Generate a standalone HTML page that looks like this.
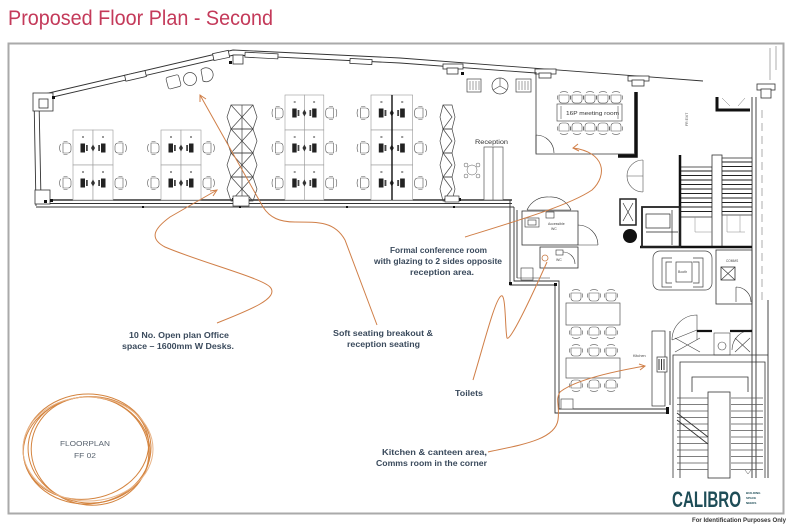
<!DOCTYPE html>
<html><head><meta charset="utf-8"><style>
html,body{margin:0;padding:0;background:#fff;}
svg{display:block;}
</style></head><body>
<svg width="800" height="527" viewBox="0 0 800 527" xmlns="http://www.w3.org/2000/svg" font-family="'Liberation Sans', sans-serif">
<defs>
 <g id="chair" fill="#fff" stroke="#555" stroke-width="0.6">
   <path d="M-3,-5 h5 a3,3 0 0 1 3,3 v4 a3,3 0 0 1 -3,3 h-5 z"/>
   <path d="M-5.5,-4 q-1.8,4 0,8" fill="none"/>
   <path d="M-2.5,-6.5 h4 M-2.5,6.5 h4" fill="none"/>
 </g>
 <g id="cell">
   <rect x="0" y="0" width="20" height="35" fill="#fff" stroke="#999" stroke-width="0.6"/>
   <rect x="20" y="0" width="20" height="35" fill="#fff" stroke="#999" stroke-width="0.6"/>
   <path d="M9,7h2 M29,7h2" stroke="#333" stroke-width="1"/>
   <rect x="7.5" y="13.5" width="4.5" height="9" fill="#222"/>
   <rect x="13" y="15" width="1.8" height="6" fill="#444"/>
   <path d="M20,14.5 l2,3.5 -2,3.5 -2,-3.5z" fill="#333"/>
   <rect x="25.2" y="15" width="1.8" height="6" fill="#444"/>
   <rect x="28" y="13.5" width="4.5" height="9" fill="#222"/>
   <use href="#chair" transform="translate(-7,18)"/>
   <use href="#chair" transform="translate(47,18) scale(-1,1)"/>
 </g>
 <g id="hex" fill="none" stroke="#444" stroke-width="0.7">
   <path d="M4,0H15V24H4L0,12Z M15,0H26L30,12L26,24H15 M4,0L15,12L4,24 M26,0L15,12L26,24"/>
 </g>
 <g id="hex1" fill="none" stroke="#444" stroke-width="0.7">
   <path d="M3,0H12L15,12L12,24H3L0,12Z M3,0L12,12L3,24"/>
 </g>
</defs>

<!-- Title -->
<text x="8" y="25" font-size="21" fill="#c43a5a" textLength="265" lengthAdjust="spacingAndGlyphs">Proposed Floor Plan - Second</text>

<!-- Frame -->
<rect x="8.5" y="43.5" width="775" height="470" fill="none" stroke="#aaa" stroke-width="2"/>
<text x="692" y="522" font-size="6.5" font-weight="bold" fill="#333" textLength="94" lengthAdjust="spacingAndGlyphs">For Identification Purposes Only</text>

<!-- ============ WALLS ============ -->
<g fill="none" stroke="#333" stroke-width="0.9">
  <path d="M36,96 L233,50 L400,58 L703,81"/>
  <path d="M40,100 L234,55 L400,63 L536,73"/>
  <path d="M34,96 L36,206 M39,100 L41,200"/>
  <path d="M36,200 H512" stroke-width="1.4"/>
  <path d="M36,203.5 H512 M36,207 H514"/>
  <path d="M510,200 V285 H555 V413 H668 M514,207 V281 H559 V409 H668"/>
  <path d="M517,210 V278"/>
  <path d="M752,97 V478 M756,97 V478"/>
  <path d="M768,300 V478"/>
</g>
<g fill="none" stroke="#777" stroke-width="0.6">
  <path d="M762,110 V300" stroke-dasharray="8,5"/>
  <path d="M770,48 V80 M776,46 V70"/>
</g>
<g fill="#fff" stroke="#333" stroke-width="0.8">
  <rect x="33" y="93" width="20" height="18"/>
  <rect x="39" y="99" width="9" height="9"/>
  <rect x="35" y="190" width="15" height="14"/>
  <rect x="125" y="73" width="21" height="6" transform="rotate(-13 135 76)"/>
  <rect x="213" y="52" width="16" height="7" transform="rotate(-12 221 55)"/>
  <rect x="233" y="55" width="10" height="9"/>
  <rect x="245" y="53" width="33" height="5" transform="rotate(3 261 55)"/>
  <rect x="350" y="59" width="22" height="5" transform="rotate(3 361 61)"/>
  <rect x="443" y="64" width="20" height="5"/>
  <rect x="447" y="68" width="11" height="6"/>
  <rect x="535" y="69" width="21" height="5"/>
  <rect x="539" y="73" width="12" height="5"/>
  <rect x="628" y="76" width="21" height="5"/>
  <rect x="632" y="80" width="12" height="6"/>
  <rect x="757" y="84" width="18" height="6"/>
  <rect x="761" y="89" width="10" height="9"/>
</g>
<g fill="#111">
  <rect x="52" y="96" width="3" height="3"/>
  <rect x="44" y="200" width="3" height="3"/>
  <rect x="50" y="199" width="3" height="3"/>
  <rect x="142" y="206" width="2" height="2"/>
  <rect x="232" y="198" width="3" height="3"/>
  <rect x="246" y="198" width="3" height="3"/>
  <rect x="239" y="206" width="2" height="2"/>
  <rect x="346" y="206" width="2" height="2"/>
  <rect x="447" y="198" width="3" height="3"/>
  <rect x="458" y="198" width="3" height="3"/>
  <rect x="453" y="206" width="2" height="2"/>
  <rect x="229" y="61" width="3" height="3"/>
  <rect x="461" y="72" width="3" height="3"/>
</g>

<!-- ============ OPEN PLAN DESKS ============ -->
<use href="#cell" transform="translate(73,130)"/>
<use href="#cell" transform="translate(73,165)"/>
<use href="#cell" transform="translate(161,130)"/>
<use href="#cell" transform="translate(161,165)"/>
<g transform="translate(285,95) scale(0.97,1)">
  <use href="#cell" y="0"/><use href="#cell" y="35"/><use href="#cell" y="70"/>
</g>
<g transform="translate(371,95) scale(1.04,1)">
  <use href="#cell" y="0"/><use href="#cell" y="35"/><use href="#cell" y="70"/>
</g>
<path d="M392,95 V200" stroke="#111" stroke-width="1.4"/>

<use href="#hex" transform="translate(227,105)"/>
<use href="#hex" transform="translate(227,129)"/>
<use href="#hex" transform="translate(227,153)"/>
<use href="#hex" transform="translate(227,177)"/>
<rect x="233" y="196" width="16" height="10" fill="#fff" stroke="#333" stroke-width="0.7"/>
<use href="#hex1" transform="translate(440,105)"/>
<use href="#hex1" transform="translate(440,129)"/>
<use href="#hex1" transform="translate(440,153)"/>
<use href="#hex1" transform="translate(440,177)"/>
<rect x="445" y="196" width="14" height="6" fill="#fff" stroke="#333" stroke-width="0.7"/>

<g fill="#fff" stroke="#444" stroke-width="0.7">
  <rect x="167" y="76" width="13" height="12" rx="2" transform="rotate(-15 173 82)"/>
  <circle cx="190" cy="79" r="6.5"/>
  <path d="M201,70 a7,7 0 1 1 2,11 z"/>
  <rect x="467" y="79" width="14" height="13"/>
  <path d="M470,81V90M473,81V90M476,81V90M479,81V90" stroke-width="0.5"/>
  <circle cx="500" cy="86" r="8"/>
  <path d="M500,86V78 M500,86L493,90 M500,86L507,90" stroke-width="0.6"/>
  <rect x="516" y="79" width="15" height="13"/>
  <path d="M519,81V90M522,81V90M525,81V90M528,81V90" stroke-width="0.5"/>
</g>

<text x="475" y="144" font-size="6.2" fill="#333" textLength="33" lengthAdjust="spacingAndGlyphs">Reception</text>
<rect x="484" y="147" width="19" height="53" fill="#fff" stroke="#555" stroke-width="0.7"/>
<path d="M493,147V200" stroke="#555" stroke-width="0.7"/>
<g fill="#fff" stroke="#555" stroke-width="0.5">
  <circle cx="472" cy="170" r="5"/>
  <circle cx="466" cy="165" r="2"/><circle cx="478" cy="165" r="2"/>
  <circle cx="466" cy="176" r="2"/><circle cx="478" cy="176" r="2"/>
</g>

<!-- ============ MEETING ROOM ============ -->
<g fill="none" stroke="#333" stroke-width="0.8">
  <path d="M536,72 V154 H634"/>
  <path d="M536,135 A18,18 0 0 1 554,153 M536,135 L536,153" stroke-width="0.6"/>
</g>
<path d="M636,92 V156 H618" fill="none" stroke="#111" stroke-width="3.5"/>
<rect x="557" y="104" width="65" height="17" fill="#fff" stroke="#555" stroke-width="0.7"/>
<path d="M561,106V119 M618,106V119" stroke="#555" stroke-width="0.6"/>
<text x="566" y="115" font-size="5.4" fill="#333" textLength="53" lengthAdjust="spacingAndGlyphs">16P meeting room</text>
<g>
  <use href="#chair" transform="translate(564,98) rotate(90)"/>
  <use href="#chair" transform="translate(577,98) rotate(90)"/>
  <use href="#chair" transform="translate(590,98) rotate(90)"/>
  <use href="#chair" transform="translate(603,98) rotate(90)"/>
  <use href="#chair" transform="translate(616,98) rotate(90)"/>
  <use href="#chair" transform="translate(564,128) rotate(-90)"/>
  <use href="#chair" transform="translate(577,128) rotate(-90)"/>
  <use href="#chair" transform="translate(590,128) rotate(-90)"/>
  <use href="#chair" transform="translate(603,128) rotate(-90)"/>
  <use href="#chair" transform="translate(616,128) rotate(-90)"/>
</g>
<g fill="none" stroke="#555" stroke-width="0.6">
  <path d="M643,160 A16,16 0 0 0 627,176 H643 M643,192 A16,16 0 0 1 627,176"/>
  <path d="M643,160V192"/>
</g>
<text transform="translate(688,126) rotate(-90)" font-size="3.5" fill="#555">FR EXIT</text>
<path d="M717,97 V110 H750" fill="none" stroke="#111" stroke-width="3"/>
<path d="M722,98 L730,106 M745,98 L738,106" stroke="#777" stroke-width="0.5"/>

<!-- ============ STAIRS UPPER ============ -->
<g fill="#fff" stroke="#333" stroke-width="0.8">
  <rect x="680" y="167" width="32" height="50"/>
  <rect x="712" y="155" width="10" height="92"/>
  <rect x="722" y="158" width="30" height="57"/>
</g>
<path d="M680,171H712M680,175.5H712M680,180H712M680,184.5H712M680,189H712M680,193.5H712M680,198H712M680,202.5H712M680,207H712M680,211.5H712
M722,162H752M722,166.5H752M722,171H752M722,175.5H752M722,180H752M722,184.5H752M722,189H752M722,193.5H752M722,198H752M722,202.5H752M722,207H752M722,211.5H752" stroke="#222" stroke-width="1"/>
<path d="M695,217V232H712 M727,215V232H745 M740,215V232" fill="none" stroke="#888" stroke-width="0.5"/>
<path d="M680,155V248 M640,247H752" fill="none" stroke="#111" stroke-width="2.5"/>
<g fill="none" stroke="#222" stroke-width="1">
  <rect x="620" y="199" width="16" height="26" stroke-width="1.5"/>
  <path d="M623,203L633,221M633,203L623,221" stroke-width="0.6"/>
  <rect x="642" y="207" width="38" height="40" stroke-width="1.8"/>
  <rect x="646" y="214" width="24" height="14" stroke-width="0.7"/>
  <path d="M672,210V245 M646,232H678" stroke-width="0.7"/>
</g>
<circle cx="630" cy="236" r="7" fill="#111"/>

<!-- ============ TOILETS ============ -->
<g fill="none" stroke="#333" stroke-width="0.8">
  <rect x="522" y="211" width="56" height="34"/>
  <rect x="540" y="247" width="38" height="21"/>
  <path d="M578,225 A20,20 0 0 1 598,245 M578,245H598" stroke-width="0.6"/>
  <path d="M527,210 A22,22 0 0 1 549,197 M549,197 A22,22 0 0 1 571,210 M527,210H571" stroke-width="0.6"/>
  <path d="M517,278 H550 M563,252 A12,12 0 0 1 575,264" stroke-width="0.6"/>
  <rect x="525" y="218" width="14" height="9" stroke-width="0.6"/>
  <rect x="528" y="220" width="8" height="5" stroke-width="0.6"/>
  <rect x="546" y="212" width="8" height="6" stroke-width="0.6"/>
  <rect x="556" y="250" width="7" height="5" stroke-width="0.6"/>
  <rect x="521" y="268" width="12" height="12" stroke-width="0.6"/>
</g>
<text x="548" y="225" font-size="3.5" fill="#444">Accessible</text>
<text x="551" y="230" font-size="3.5" fill="#444">WC</text>
<text x="556" y="261" font-size="3.5" fill="#444">WC</text>
<circle cx="545" cy="258" r="3" fill="none" stroke="#c87a45" stroke-width="0.8"/>
<rect x="509" y="282" width="3" height="3" fill="#111"/>
<rect x="554" y="283" width="3" height="3" fill="#111"/>

<!-- ============ KITCHEN ============ -->
<g fill="#fff" stroke="#555" stroke-width="0.7">
  <rect x="566" y="303" width="54" height="22"/>
  <rect x="566" y="358" width="54" height="20"/>
  <rect x="561" y="399" width="12" height="10"/>
</g>
<g>
  <use href="#chair" transform="translate(576,296) rotate(90)"/>
  <use href="#chair" transform="translate(594,296) rotate(90)"/>
  <use href="#chair" transform="translate(611,296) rotate(90)"/>
  <use href="#chair" transform="translate(576,332) rotate(-90)"/>
  <use href="#chair" transform="translate(594,332) rotate(-90)"/>
  <use href="#chair" transform="translate(611,332) rotate(-90)"/>
  <use href="#chair" transform="translate(576,351) rotate(90)"/>
  <use href="#chair" transform="translate(594,351) rotate(90)"/>
  <use href="#chair" transform="translate(611,351) rotate(90)"/>
  <use href="#chair" transform="translate(576,385) rotate(-90)"/>
  <use href="#chair" transform="translate(594,385) rotate(-90)"/>
  <use href="#chair" transform="translate(611,385) rotate(-90)"/>
</g>
<text x="633" y="357" font-size="3.8" fill="#444">Kitchen</text>
<g fill="#fff" stroke="#333" stroke-width="0.7">
  <rect x="652" y="331" width="13" height="75"/>
  <rect x="657" y="357" width="10" height="15"/>
</g>
<path d="M659,359V370M661.5,359V370M664,359V370" stroke="#222" stroke-width="0.9"/>
<rect x="666" y="407" width="3" height="7" fill="#111"/>

<g fill="#fff" stroke="#444" stroke-width="0.7">
  <rect x="653" y="251" width="59" height="39" rx="7"/>
  <path d="M672,258 H662 V287 H672 M672,262 H666 V283 H672"/>
  <path d="M693,258 H703 V287 H693 M693,262 H699 V283 H693"/>
  <rect x="676" y="262" width="16" height="20"/>
</g>
<text x="678" y="273" font-size="3.5" fill="#444">Booth</text>
<g fill="none" stroke="#333" stroke-width="0.8">
  <rect x="716" y="250" width="36" height="54"/>
  <rect x="721" y="267" width="14" height="13"/>
  <path d="M721,267L735,280M735,267L721,280" stroke-width="0.6"/>
  <path d="M736,287 A15,15 0 0 1 751,302 M736,287V302" stroke-width="0.6"/>
</g>
<text x="726" y="262" font-size="3.2" fill="#444">COMMS</text>

<g fill="none" stroke="#444" stroke-width="0.6">
  <path d="M672,340 A25,25 0 0 1 697,315 V340 M672,340 L697,330"/>
  <path d="M675,338 L700,352 M675,352 L700,338"/>
  <rect x="714" y="333" width="16" height="22"/>
  <circle cx="722" cy="346" r="4"/>
  <path d="M752,330 A20,20 0 0 0 732,350 M735,338 L750,352 M735,352 L750,338"/>
</g>
<path d="M697,331 H712 M730,331 H752" stroke="#111" stroke-width="2.2"/>
<path d="M670,331V405" stroke="#333" stroke-width="0.9"/>

<!-- ============ STAIRS LOWER ============ -->
<g fill="none" stroke="#333" stroke-width="0.8">
  <path d="M673,478 V355 H768"/>
  <path d="M680,478 V362 H765 V478"/>
  <path d="M692,392 V377 H748 V392"/>
  <rect x="708" y="392" width="22" height="86"/>
</g>
<path d="M677,398H708M677,404.5H708M677,411H708M677,417.5H708M677,424H708M677,430.5H708M677,437H708M677,443.5H708M677,450H708M677,456.5H708M677,463H708M677,469.5H708
M731,398H763M731,404.5H763M731,411H763M731,417.5H763M731,424H763M731,430.5H763M731,437H763M731,443.5H763M731,450H763M731,456.5H763M731,463H763M731,469.5H763" stroke="#555" stroke-width="0.7"/>
<path d="M677,413 L708,437 M677,420 L708,444" stroke="#333" stroke-width="0.9"/>
<path d="M745,470 l3,4 3,-4" fill="none" stroke="#555" stroke-width="0.5"/>

<text x="672" y="507" font-size="22" font-weight="bold" fill="#1e4d57" textLength="69" lengthAdjust="spacingAndGlyphs">CALIBRO</text>
<g font-size="3" fill="#1e4d57" font-weight="bold">
  <text x="746" y="494">BUILDING</text>
  <text x="746" y="499">SPACE</text>
  <text x="746" y="504">NEEDS</text>
</g>

<!-- ============ ANNOTATIONS ============ -->
<g fill="none" stroke="#d07f48" stroke-width="1">
  <path d="M217,323 C250,310 280,298 270,287 C262,278 200,262 165,247 C148,238 155,228 170,217 L217,190"/>
  <path d="M210,191 L217,190 L213,196"/>
  <path d="M200,95 L263,207 C270,218 280,222 295,222 C320,222 335,222 345,240 L377,325"/>
  <path d="M200,102 L200,95 L206,99"/>
  <path d="M465,237 C520,220 570,205 592,190 C608,175 605,152 573,148"/>
  <path d="M578,144 L573,148 L579,151"/>
  <path d="M473,380 C485,340 495,300 501,296 C506,292 505,330 507,338 C510,342 530,300 547,262"/>
  <path d="M488,452 C520,445 555,440 558,420 C560,405 555,400 560,392 C575,380 610,372 645,366"/>
  <path d="M639,364 L645,366 L640,370"/>
</g>
<g fill="none" stroke="#d4843f" stroke-width="1">
  <ellipse cx="87" cy="449" rx="64" ry="55" transform="rotate(-4 87 449)"/>
  <ellipse cx="89" cy="450" rx="61" ry="53" transform="rotate(6 89 450)"/>
  <ellipse cx="86" cy="448" rx="63" ry="51" transform="rotate(-10 86 448)"/>
  <ellipse cx="90" cy="451" rx="59" ry="54" transform="rotate(12 90 451)"/>
  <ellipse cx="88" cy="449" rx="65" ry="52" stroke="#e8b58a"/>
</g>

<g font-size="8" font-weight="bold" fill="#3a4a5c">
  <text x="129" y="338" textLength="100" lengthAdjust="spacingAndGlyphs">10 No. Open plan Office</text>
  <text x="122" y="349" textLength="112" lengthAdjust="spacingAndGlyphs">space – 1600mm W Desks.</text>
  <text x="333" y="336" textLength="100" lengthAdjust="spacingAndGlyphs">Soft seating breakout &amp;</text>
  <text x="347" y="347" textLength="73" lengthAdjust="spacingAndGlyphs">reception seating</text>
  <text x="390" y="253" textLength="97" lengthAdjust="spacingAndGlyphs">Formal conference room</text>
  <text x="374" y="264" textLength="128" lengthAdjust="spacingAndGlyphs">with glazing to 2 sides opposite</text>
  <text x="410" y="275" textLength="64" lengthAdjust="spacingAndGlyphs">reception area.</text>
  <text x="455" y="396" textLength="28" lengthAdjust="spacingAndGlyphs">Toilets</text>
  <text x="382" y="455" textLength="105" lengthAdjust="spacingAndGlyphs">Kitchen &amp; canteen area,</text>
  <text x="376" y="466" textLength="111" lengthAdjust="spacingAndGlyphs">Comms room in the corner</text>
</g>
<g font-size="7.5" fill="#5a6470">
  <text x="60" y="446" textLength="50" lengthAdjust="spacingAndGlyphs">FLOORPLAN</text>
  <text x="74" y="458" textLength="22" lengthAdjust="spacingAndGlyphs">FF 02</text>
</g>
</svg>
</body></html>
